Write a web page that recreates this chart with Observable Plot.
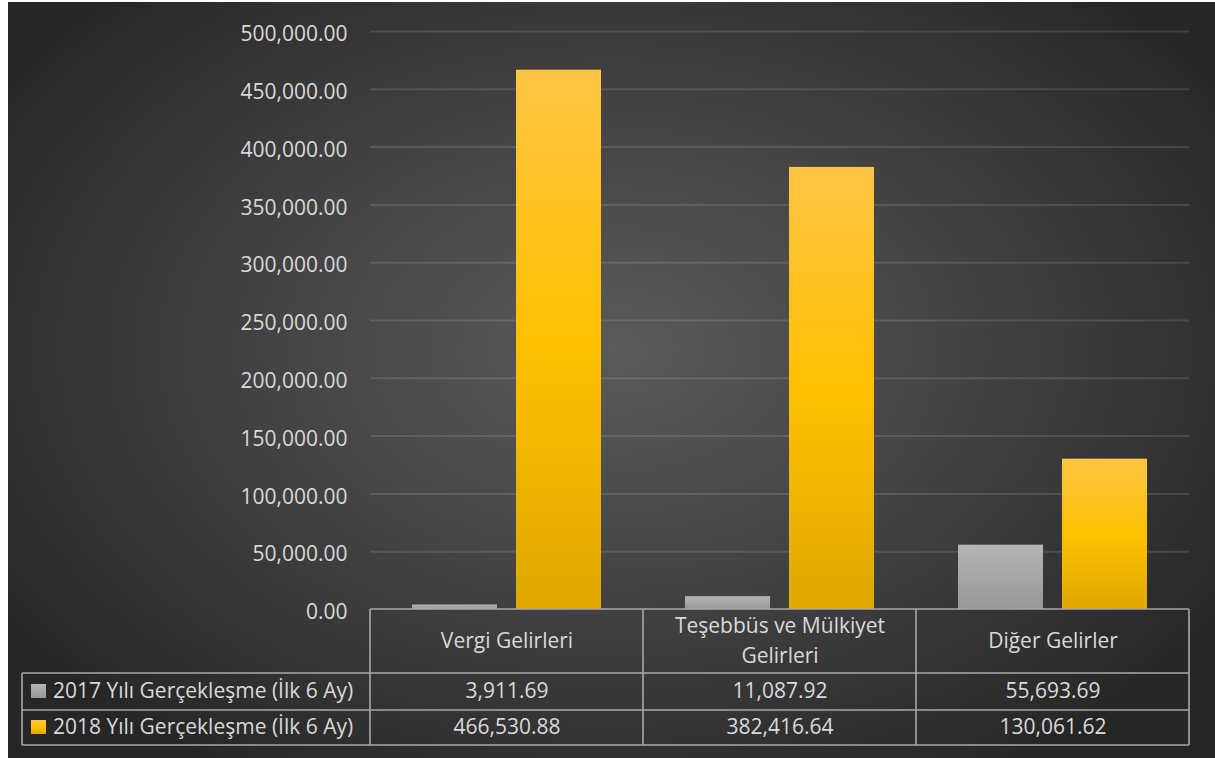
<!DOCTYPE html>
<html>
<head>
<meta charset="utf-8">
<script src="https://cdn.jsdelivr.net/npm/d3@7"></script>
<script src="https://cdn.jsdelivr.net/npm/@observablehq/plot@0.6"></script>
<style>
  html, body { margin: 0; padding: 0; background: #ffffff; }
  #frame {
    position: absolute; left: 8px; top: 2px; width: 1207px; height: 756px;
    background: radial-gradient(ellipse 60% 65% at 50% 46%, #5a5a5a 0%, #454545 45%, #2a2a2a 95%, #262626 100%);
  }
  #chart { position: absolute; left: 0; top: 0; }
</style>
</head>
<body>
<div id="frame"></div>
<div id="chart"></div>
<script>
const categories = ["Vergi Gelirleri", "Teşebbüs ve Mülkiyet Gelirleri", "Diğer Gelirler"];
const categoryLabels = ["Vergi Gelirleri", "Teşebbüs ve Mülkiyet\nGelirleri", "Diğer Gelirler"];
const seriesKeys = ["2017", "2018"];
const seriesNames = ["2017 Yılı Gerçekleşme (İlk 6 Ay)", "2018 Yılı Gerçekleşme (İlk 6 Ay)"];
const values2017 = [3911.69, 11087.92, 55693.69];
const values2018 = [466530.88, 382416.64, 130061.62];
const yTicks = [0, 50000, 100000, 150000, 200000, 250000, 300000, 350000, 400000, 450000, 500000];

const seriesValues = [values2017, values2018];
const rows = [];
seriesKeys.forEach((s, si) => categories.forEach((c, ci) => rows.push({series: s, category: c, value: seriesValues[si][ci]})));

const fmt = d3.format(",.2f");
const font = "'Open Sans', 'Noto Sans', sans-serif";
const textColor = "#d9d9d9";
const lineColor = "#a8a8a8";
const fs = 21;

const rowOffsets = [82, 118]; // vertical centre of each table row below the zero line
const plot = Plot.plot({
  width: 1215,
  height: 758,
  marginLeft: 369,
  marginRight: 25,
  marginTop: 31,
  marginBottom: 149,
  style: {background: "transparent", color: textColor, fontFamily: font, fontSize: fs + "px", overflow: "visible"},
  fx: {domain: categories, padding: 0, axis: null},
  x: {domain: seriesKeys, paddingInner: 0.18, paddingOuter: 0.4, axis: null},
  y: {domain: [0, 500000], axis: null},
  color: {domain: seriesKeys, range: ["url(#grad2017)", "url(#grad2018)"]},
  marks: [
    Plot.gridY(yTicks.slice(1), {stroke: "#ffffff", strokeOpacity: 0.12, strokeWidth: 2}),
    Plot.axisY(yTicks, {tickSize: 0, tickPadding: 23, tickFormat: fmt, label: null, fontSize: fs, fill: textColor, dy: 3}),
    Plot.barY(rows, {fx: "category", x: "series", y: "value", fill: "series", style: "filter:url(#barShadow)"}),
    Plot.text(categories, {fx: d => d, text: (d, i) => categoryLabels[i], frameAnchor: "bottom", dy: 29, lineAnchor: "middle", lineHeight: 1.4, fill: textColor, fontSize: fs}),
    ...seriesKeys.map((s, si) => Plot.text(rows.filter(r => r.series === s), {fx: "category", text: d => fmt(d.value), frameAnchor: "bottom", dy: rowOffsets[si], lineAnchor: "middle", fill: textColor, fontSize: fs}))
  ]
});

const svg = d3.select(plot);
const defs = svg.insert("defs", ":first-child");
const g17 = defs.append("linearGradient").attr("id", "grad2017").attr("x1", 0).attr("y1", 0).attr("x2", 0).attr("y2", 1);
g17.append("stop").attr("offset", "0%").attr("stop-color", "#b5b5b5");
g17.append("stop").attr("offset", "100%").attr("stop-color", "#979797");
const g18 = defs.append("linearGradient").attr("id", "grad2018").attr("x1", 0).attr("y1", 0).attr("x2", 0).attr("y2", 1);
g18.append("stop").attr("offset", "0%").attr("stop-color", "#ffc545");
g18.append("stop").attr("offset", "50%").attr("stop-color", "#ffc000");
g18.append("stop").attr("offset", "100%").attr("stop-color", "#dfa800");
const sh = defs.append("filter").attr("id", "barShadow").attr("x", "-20%").attr("y", "-5%").attr("width", "150%").attr("height", "110%");
sh.append("feDropShadow").attr("dx", 3).attr("dy", 0).attr("stdDeviation", 3).attr("flood-color", "#000").attr("flood-opacity", 0.35);

// Data table under the plot, aligned with the library's scales
const fx = plot.scale("fx");
const yS = plot.scale("y");
const colEdges = categories.map(c => fx.apply(c));
colEdges.push(colEdges[colEdges.length - 1] + fx.bandwidth);
const y0 = yS.apply(0);
const headerBottom = y0 + 64;
const rowBottoms = [headerBottom + 37, headerBottom + 72];
const tableLeft = 22;
const right = colEdges[colEdges.length - 1];
const table = svg.append("g").attr("stroke", lineColor).attr("stroke-width", 1.6).attr("fill", "none");
table.append("line").attr("x1", colEdges[0]).attr("x2", right).attr("y1", y0).attr("y2", y0);
[headerBottom, ...rowBottoms].forEach(yy => table.append("line").attr("x1", tableLeft).attr("x2", right).attr("y1", yy).attr("y2", yy));
table.append("line").attr("x1", tableLeft).attr("x2", tableLeft).attr("y1", headerBottom).attr("y2", rowBottoms[1]);
colEdges.forEach(xx => table.append("line").attr("x1", xx).attr("x2", xx).attr("y1", y0).attr("y2", rowBottoms[1]));

const swatchGrads = ["url(#grad2017)", "url(#grad2018)"];
const legend = svg.append("g").attr("font-family", font).attr("font-size", fs).attr("fill", textColor).attr("text-anchor", "start");
seriesNames.forEach((name, i) => {
  const cy = y0 + rowOffsets[i];
  legend.append("rect").attr("x", 31).attr("y", cy - 7).attr("width", 15).attr("height", 14).attr("fill", swatchGrads[i]);
  legend.append("text").attr("x", 53).attr("y", cy).attr("dy", "0.35em").text(name);
});

document.getElementById("chart").appendChild(plot);
</script>
</body>
</html>
